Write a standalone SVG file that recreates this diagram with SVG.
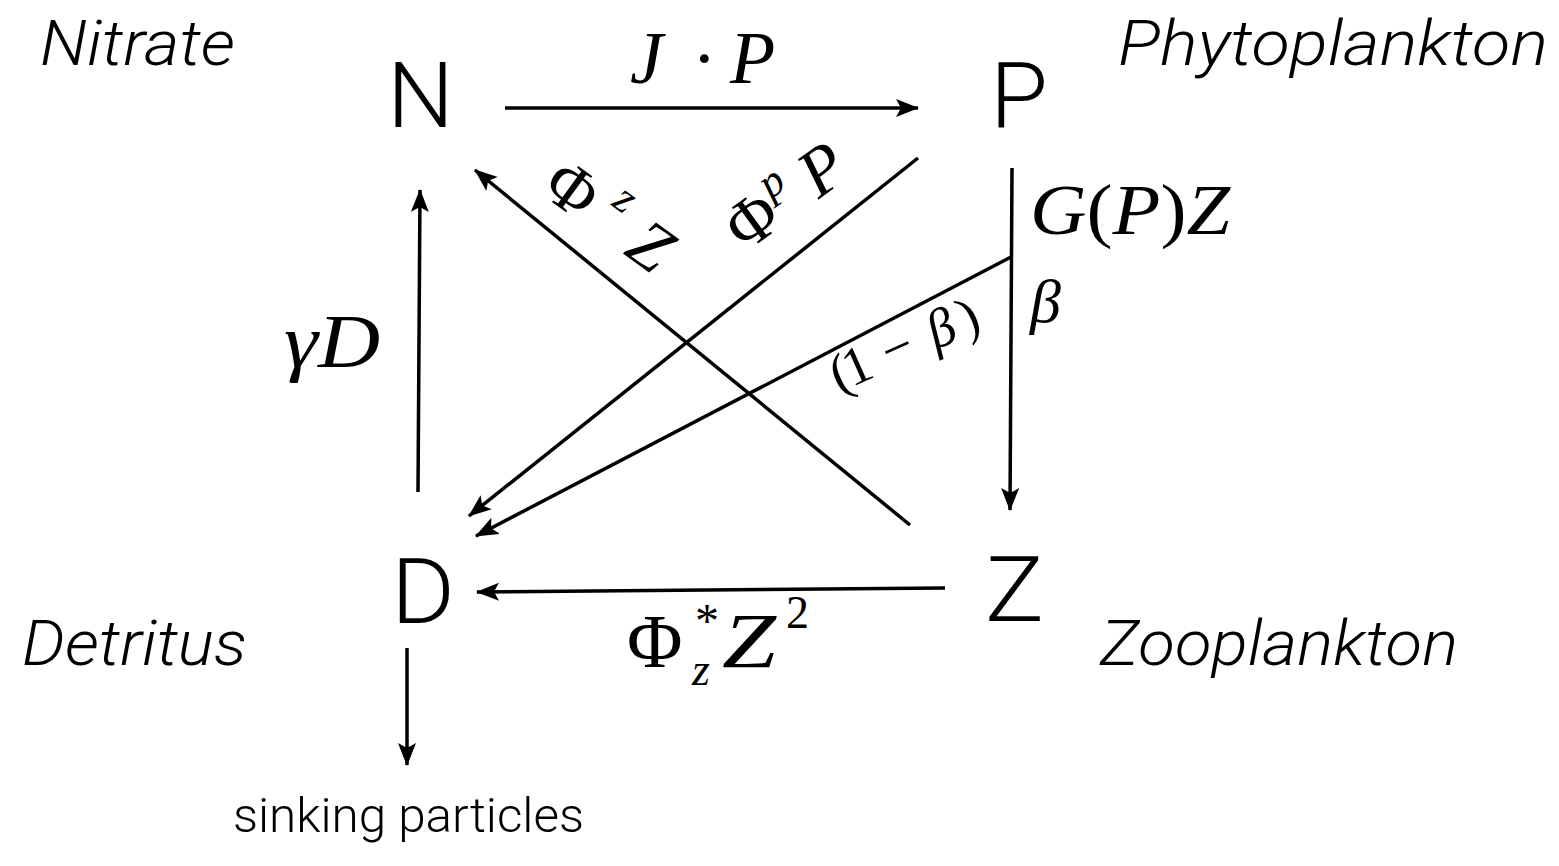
<svg xmlns="http://www.w3.org/2000/svg" width="1559" height="866" viewBox="0 0 1559 866">
<defs>
<marker id="ah" markerUnits="userSpaceOnUse" markerWidth="26" markerHeight="20" refX="22" refY="9" orient="auto" viewBox="0 0 26 20">
<path d="M0,0 L23,9 L0,18 L5,9 Z" fill="#000"/>
</marker>
<style>
.big{font-family:Roboto,"Liberation Sans",sans-serif;font-weight:300;font-size:90px;fill:#000}
.lab{font-family:Roboto,"Liberation Sans",sans-serif;font-weight:300;font-style:italic;font-size:62px;fill:#000}
.m{font-family:"Liberation Serif",serif;font-style:italic;fill:#000}
.r{font-family:"Liberation Serif",serif;font-style:normal;fill:#000}
.ca{stroke:#000;stroke-width:3.5;fill:none;marker-end:url(#ah)}
</style>
</defs>
<rect width="1559" height="866" fill="#fff"/>
<g id="node-N"><text class="big" x="387" y="127" textLength="67" lengthAdjust="spacingAndGlyphs">N</text></g>
<g id="node-P"><text class="big" x="990" y="127" textLength="58" lengthAdjust="spacingAndGlyphs">P</text></g>
<g id="node-D"><text class="big" x="391" y="623" textLength="64" lengthAdjust="spacingAndGlyphs">D</text></g>
<g id="node-Z"><text class="big" x="985" y="621" textLength="59" lengthAdjust="spacingAndGlyphs">Z</text></g>
<g id="label-nitrate"><text class="lab" x="40" y="65" textLength="195" lengthAdjust="spacingAndGlyphs">Nitrate</text></g>
<g id="label-phyto"><text class="lab" x="1118" y="65" textLength="430" lengthAdjust="spacingAndGlyphs">Phytoplankton</text></g>
<g id="label-detritus"><text class="lab" x="22" y="665" textLength="225" lengthAdjust="spacingAndGlyphs">Detritus</text></g>
<g id="label-zoo"><text class="lab" x="1100" y="665" textLength="358" lengthAdjust="spacingAndGlyphs">Zooplankton</text></g>
<g id="label-sinking"><text x="233" y="832" font-family="Roboto,'Liberation Sans',sans-serif" font-weight="300" font-size="48" textLength="351" lengthAdjust="spacingAndGlyphs">sinking particles</text></g>
<g id="connectors">
<line class="ca" x1="505" y1="108" x2="918" y2="108"/>
<line class="ca" x1="418" y1="492" x2="420" y2="190"/>
<line class="ca" x1="945" y1="588" x2="477" y2="592"/>
<line class="ca" x1="407" y1="648" x2="407" y2="765"/>
<line class="ca" x1="1012" y1="168" x2="1010" y2="510"/>
<line class="ca" x1="910" y1="525" x2="475" y2="170"/>
<line class="ca" x1="918" y1="158" x2="469" y2="516"/>
<line class="ca" x1="1011" y1="257" x2="476" y2="536"/>
</g>
<g id="math-labels">
<text class="m" x="630" y="83" font-size="74">J</text>
<text class="r" x="692" y="83" font-size="74">·</text>
<text class="m" x="730" y="83" font-size="74">P</text>
<text class="m" x="1030" y="234" font-size="72" textLength="200" lengthAdjust="spacingAndGlyphs">G<tspan class="r">(</tspan>P<tspan class="r">)</tspan>Z</text>
<text class="m" x="1030" y="322" font-size="62">β</text>
<text class="m" x="284" y="367" font-size="76" textLength="96" lengthAdjust="spacingAndGlyphs">γD</text>
<text class="r" x="627" y="667" font-size="76">Φ</text>
<text class="r" x="695" y="637" font-size="48">*</text>
<text class="m" x="692" y="685" font-size="46">z</text>
<text class="m" x="722" y="667" font-size="78" textLength="54" lengthAdjust="spacingAndGlyphs">Z</text>
<text class="r" x="786" y="628" font-size="46">2</text>
<g transform="translate(539,192.5) rotate(36)">
<text class="r" x="0" y="0" font-size="68">Φ</text>
<text class="m" x="65" y="-32" font-size="44">z</text>
<text class="m" x="103" y="0" font-size="68">Z</text>
</g>
<g transform="translate(745,253) rotate(-36)">
<text class="r" x="0" y="0" font-size="68">Φ</text>
<text class="m" x="52" y="-28" font-size="44">p</text>
<text class="m" x="91" y="0" font-size="68">P</text>
</g>
<g transform="translate(839,393) rotate(-24)">
<text class="r" x="0" y="0" font-size="54">(</text>
<text class="r" x="14" y="0" font-size="54">1</text>
<text class="r" x="56" y="0" font-size="54">−</text>
<text class="m" x="106" y="0" font-size="54">β</text>
<text class="r" x="140" y="0" font-size="54">)</text>
</g>
</g>
</svg>
